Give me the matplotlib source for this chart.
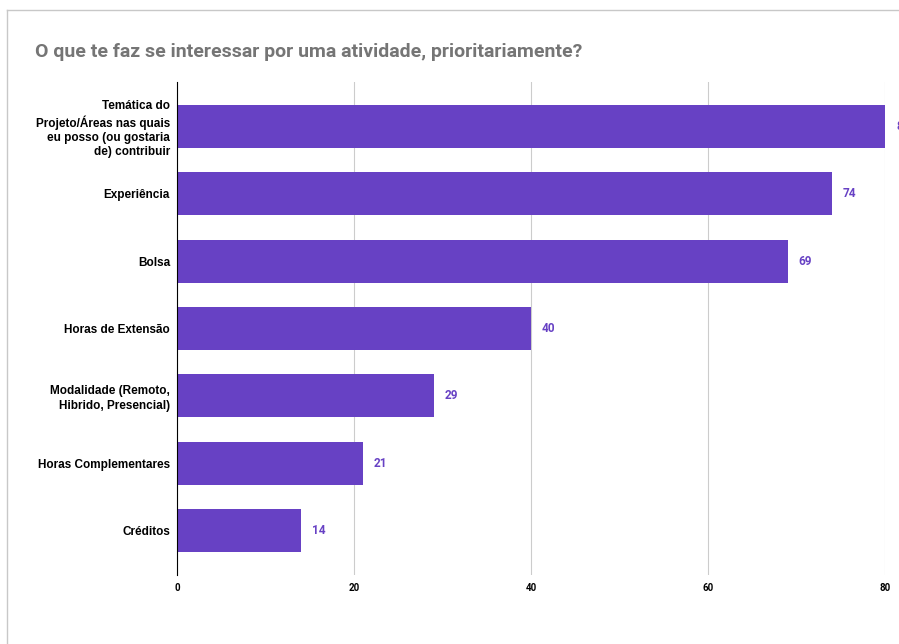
import matplotlib.pyplot as plt
from matplotlib.lines import Line2D

# data
categories = ['Temática do\nProjeto/Áreas nas quais\neu posso (ou gostaria\nde) contribuir',
              'Experiência',
              'Bolsa',
              'Horas de Extensão',
              'Modalidade (Remoto,\nHibrido, Presencial)',
              'Horas Complementares',
              'Créditos']
counts = [80, 74, 69, 40, 29, 21, 14]
x_ticks = [0, 20, 40, 60, 80]

title = 'O que te faz se interessar por uma atividade, prioritariamente?'
bar_color = '#6741c4'

plt.rcParams['font.family'] = ['Roboto', 'DejaVu Sans']

W, H = 899, 644
fig = plt.figure(figsize=(W / 100, H / 100), dpi=100)
ax = fig.add_axes([177 / W, 1 - 575 / H, (885 - 177) / W, (575 - 82) / H])

ypos = list(range(len(categories)))
ax.barh(ypos, counts, height=0.64, color=bar_color, zorder=2)

for y, v in zip(ypos, counts):
    ax.annotate(str(v), (v, y), xytext=(8, 0), textcoords='offset points',
                ha='left', va='center', fontsize=8.5, fontweight='bold',
                color=bar_color, annotation_clip=False)

ax.set_xlim(0, 80)
ax.set_ylim(len(categories) - 0.34, -0.66)
ax.set_xticks(x_ticks)
ax.set_xticklabels([str(t) for t in x_ticks], fontsize=7, fontweight='bold')
ax.set_yticks(ypos)
ax.set_yticklabels(categories, fontsize=8.5, fontweight='bold',
                   family=['Liberation Sans', 'DejaVu Sans'], linespacing=1.25)
ax.tick_params(axis='both', length=0)
ax.tick_params(axis='x', pad=6)
ax.tick_params(axis='y', pad=5)

ax.grid(axis='x', color='#cccccc', linewidth=0.8, zorder=0)
for s in ['top', 'right', 'bottom']:
    ax.spines[s].set_visible(False)
ax.spines['left'].set_color('black')
ax.spines['left'].set_linewidth(0.8)
ax.spines['left'].set_zorder(3)

fig.text(35 / W, 1 - 52 / H, title, fontsize=14, fontweight='bold',
         color='#757575', ha='left', va='center')

# outer frame of the original (cropped) chart card
fig.add_artist(Line2D([7 / W, 1.01], [1 - 10 / H, 1 - 10 / H],
                      transform=fig.transFigure, color='#c8c8c8', linewidth=1))
fig.add_artist(Line2D([7 / W, 7 / W], [1 - 10 / H, -0.01],
                      transform=fig.transFigure, color='#c8c8c8', linewidth=1))

fig.savefig('out.png', dpi=100)
